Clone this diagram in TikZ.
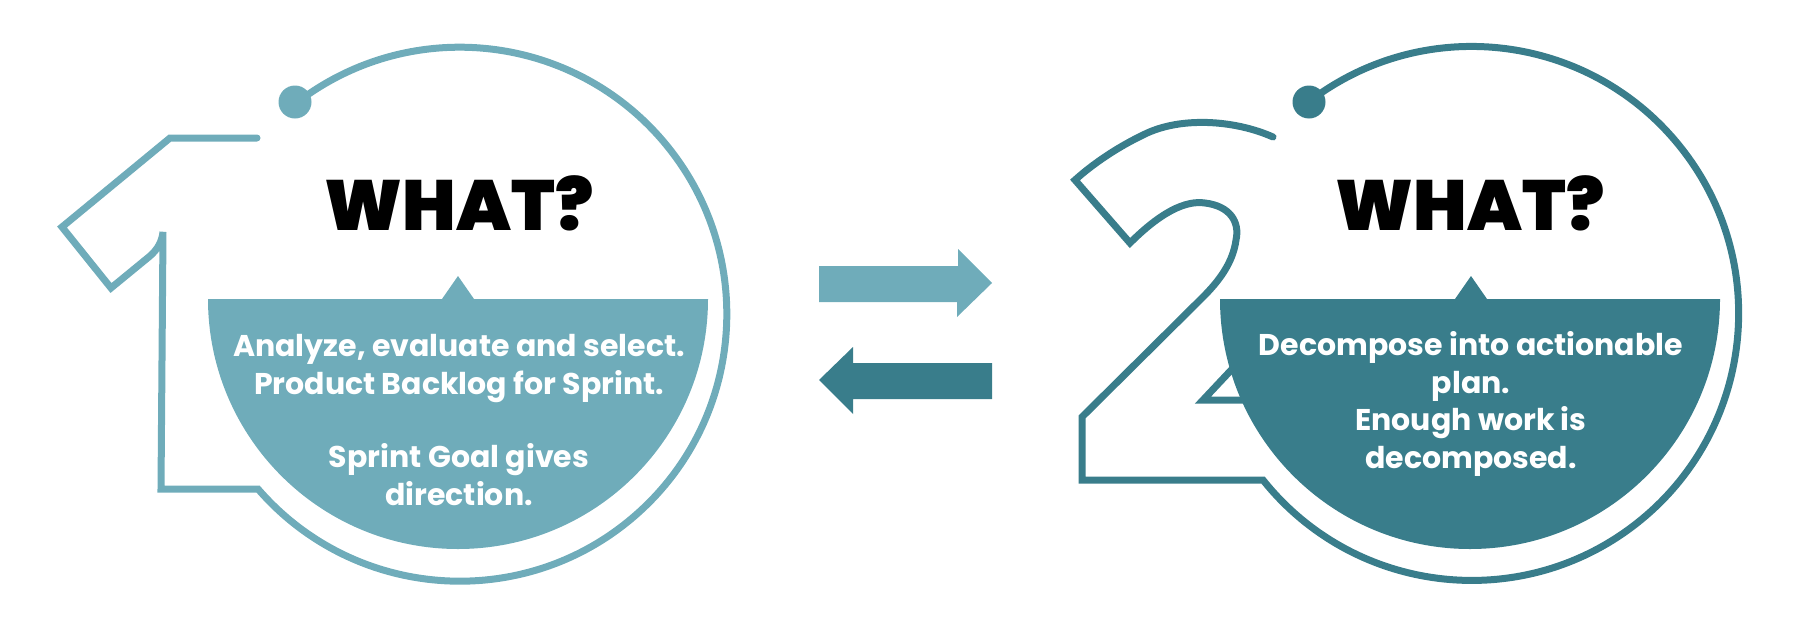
\documentclass[tikz,border=0pt]{standalone}
\usepackage{fontspec}
\setmainfont{Poppins}
\newfontfamily\headfont{Poppins Black}
\newfontfamily\bodyfont{Poppins Bold}
\usetikzlibrary{calc}
\definecolor{tlight}{HTML}{6FACBA}
\definecolor{tdark}{HTML}{397D8B}
\tikzset{
  outl/.style={line width=7pt,line cap=round,line join=miter},
  headtxt/.style={anchor=base,inner sep=0pt,text=black,font=\headfont\fontsize{71}{71}\selectfont},
  bodytxt/.style={anchor=base,inner sep=0pt,align=center,text=white,font=\bodyfont\fontsize{30}{37.5}\selectfont},
}

\begin{document}
\begin{tikzpicture}[x=1pt,y=-1pt]
  \useasboundingbox (0,0) rectangle (1800,627);
  % etapa 1
  \draw[outl,tlight] (257,138) -- (170,138) -- (62,227) -- (111,288) -- (150,256)
    .. controls (158,249) and (162,241) .. (163,232) -- (161,489) -- (258,489)
    arc[start angle=139.1,end angle=-127.9,radius=267];
  \fill[tlight] (295,102) circle[radius=16.5];
  \fill[tlight] (208,299) arc[start angle=180,end angle=0,radius=250]
    -- (474,299) -- (458,276) -- (442,299) -- cycle;
  \node[headtxt] (what1) at (459,230) {WHAT?};
  % base = ultima linha
  \node[bodytxt] (txt1) at (459,505) {Analyze, evaluate and select.\\Product Backlog for Sprint.\\[36pt]Sprint Goal gives\\direction.};
  % setas
  \fill[tlight] (819,266) -- (958,266) -- (958,249) -- (992,283) -- (957,317) -- (957,302) -- (819,302) -- cycle;
  \fill[tdark] (992,363) -- (853,363) -- (853,347) -- (819,380) -- (853,414) -- (853,399) -- (992,399) -- cycle;
  % etapa 2
  \draw[outl,tdark] (1273,137) .. controls (1235,120) and (1180,116) .. (1143,135)
    .. controls (1120,146) and (1095,162) .. (1075,180) -- (1130,243)
    .. controls (1160,213) and (1185,200) .. (1205,203)
    .. controls (1230,206) and (1240,222) .. (1236,240)
    .. controls (1233,262) and (1220,280) .. (1203,297)
    -- (1082,417) -- (1082,480) -- (1263,480)
    arc[start angle=141.4,end angle=-127.4,radius=267];
  \draw[outl,tdark,line cap=butt] (1250,350) -- (1203,400) -- (1260,400);
  \fill[tdark] (1309,102) circle[radius=16.5];
  \fill[tdark] (1220,299) arc[start angle=180,end angle=0,radius=250]
    -- (1487,299) -- (1471,276) -- (1455,299) -- cycle;
  \node[headtxt] (what2) at (1470,230) {WHAT?};
  \node[bodytxt] (txt2) at (1471,468) {Decompose into actionable\\plan.\\Enough work is\\decomposed.};
\end{tikzpicture}
\end{document}
